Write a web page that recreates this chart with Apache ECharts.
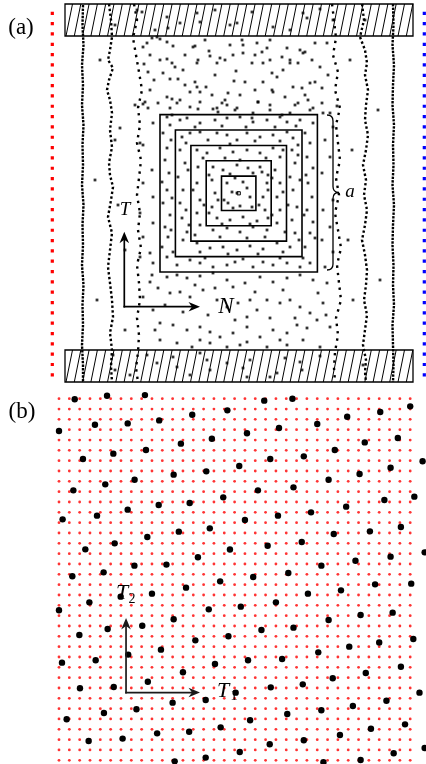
<!DOCTYPE html>
<html><head><meta charset="utf-8">
<script src="https://cdn.jsdelivr.net/npm/echarts@6/dist/echarts.min.js"></script>
<style>html,body{margin:0;padding:0;background:#fff;}#chart{width:426px;height:764px;}</style>
</head><body><div id="chart"></div>
<script>
// ===== Panel (a): values in panel-(a) units =====
const wallX = [65, 413];
const wallY = [[4, 36], [350, 382]];
const squareCenter = [238.7, 193.3];
const squareHalf = [17.2, 32.5, 47.8, 63.3, 78.7];
const centerMarkHalf = [1.6];
const braceA = [[327, 115, 270, 333, 339]];
const arrowsA = [[124.3, 306.7, 124.3, 231.7], [124.3, 306.7, 200, 306.7]];
const sideRed = [[52.3, 11.7], [52.3, 376.5]];
const sideBlue = [[424.3, 11.7], [424.3, 376.5]];

const col83 = [[83,5],[82.5,25],[83.5,45],[82,65],[83,85],[82,105],[83.5,125],[82.5,145],[83,165],[82,185],[83.5,205],[82.5,225],[83,245],[82,265],[83.5,285],[82.5,305],[83,325],[82,345],[83,365],[83,382]];
const col110 = [[109,4],[111,20],[112,37],[110,50],[108,60],[113,68],[109,80],[107,90],[110,100],[112,113],[110,130],[112,147],[109,163],[110,175],[113,187],[111,200],[108,217],[112,233],[110,250],[108,267],[110,283],[112,300],[113,317],[110,333],[112,350],[111,366],[112,382]];
const col138 = [[134,4],[137,20],[133,38],[136,55],[139,72],[142,90],[138,108],[140,125],[137,143],[141,160],[139,178],[137,195],[140,213],[138,230],[141,248],[137,265],[139,283],[140,300],[137,318],[139,335],[138,352],[136,368],[138,382]];
const col337 = [[332,4],[334,20],[336,38],[333,55],[338,72],[335,90],[340,108],[336,125],[338,143],[340,160],[336,178],[339,195],[335,213],[338,230],[341,248],[337,265],[339,283],[341,300],[336,318],[338,335],[335,352],[334,368],[335,382]];
const col365 = [[362,4],[364,20],[360,37],[365,50],[367,63],[365,75],[368,90],[366,105],[365,120],[368,135],[366,150],[363,165],[366,180],[364,195],[367,210],[365,225],[362,240],[365,255],[367,270],[366,285],[364,300],[367,315],[365,330],[363,345],[366,360],[365,372],[366,382]];
const col393 = [[393,4],[393.5,25],[392.5,45],[394,65],[393,85],[392.5,105],[394,125],[393,145],[393.5,165],[392.5,185],[394,205],[393,225],[392.5,245],[393.5,265],[393,285],[394,305],[392.5,325],[393,345],[393.5,365],[393,382]];

const dotsWalls = [[115,25],[137,10],[142,12],[167,17],[168,28],[180,23],[197,13],[200,22],[230,25],[237,23],[273,27],[303,13],[307,18],[333,20],[365,20],[252,12],[290,30],[320,9],[215,10],[155,30],
[113,355],[115,370],[147,355],[157,363],[173,357],[177,367],[200,353],[207,360],[210,370],[227,363],[243,368],[247,377],[250,360],[270,377],[277,373],[300,362],[302,370],[363,365],[190,375],[320,356],[285,358],[130,375]];
const dotsTop = [[147,43],[152,38],[160,39],[167,42],[173,46],[143,47],[195,46],[144,64],[167,59],[172,63],[175,67],[183,70],[198,60],[197,63],[209,51],[210,56],[217,63],[220,58],[225,60],[233,55],[236,71],[148,72],[163,73],[154,80],[170,79],[178,79],[195,82],[197,87],[200,92],[206,87],[215,75],[234,81],[228,93],[145,102],[167,97],[172,99],[190,92],[225,100],[222,103],[217,108],[148,108],[170,108],[198,109],[213,109],
[243,45],[257,43],[270,40],[255,55],[252,63],[243,53],[263,63],[270,60],[282,57],[290,60],[300,50],[303,53],[315,43],[327,43],[290,63],[298,63],[272,73],[277,77],[283,70],[320,67],[245,82],[255,90],[272,90],[273,92],[293,87],[302,88],[305,95],[310,83],[315,82],[322,88],[308,100],[258,102],[270,105],[322,103],[157,37],[193,47],[242,40],[267,48],[305,52],
[150,55],[185,55],[205,40],[230,45],[262,52],[287,48],[312,60],[328,75],[150,90],[185,85],[212,95],[240,95],[263,82],[285,97],[295,105],[160,60],[235,110],[310,110],[180,100]];
const dotsSquares = [[135,105],[143,104],[158,103],[177,103],[190,107],[200,102],[218,112],[227,105],[237,108],[253,113],[258,102],[270,110],[282,115],[290,113],[298,103],[313,108],[337,106],[330,113],
[167,117],[172,115],[180,120],[187,118],[200,123],[215,120],[227,118],[240,117],[252,118],[253,122],[267,120],[280,117],[287,122],[300,120],[313,123],[163,133],[167,148],[165,160],[169,173],[162,182],[167,190],[163,203],[170,215],[165,227],[168,237],[162,247],[167,257],[177,265],[190,260],[200,263],[213,267],[227,265],[243,259],[253,267],[263,262],[273,265],[287,263],[300,267],[310,263],[305,247],[310,233],[313,222],[307,210],[312,197],[308,183],[313,168],[307,157],[310,143],[305,133],
[170,125],[195,127],[222,126],[246,127],[275,127],[296,126],[171,140],[172,198],[171,230],[173,252],[205,258],[235,262],[280,258],[303,258],[306,175],[304,215],[315,238],
[182,137],[190,133],[200,132],[217,133],[227,135],[237,140],[247,133],[260,137],[273,135],[287,132],[293,138],[180,150],[185,163],[178,177],[183,190],[180,203],[182,218],[187,232],[183,240],[197,243],[210,248],[223,247],[237,250],[250,246],[263,249],[277,243],[290,247],[295,233],[292,220],[297,207],[293,190],[290,177],[295,163],[292,150],
[186,143],[208,140],[230,144],[255,141],[280,141],[298,145],[188,170],[186,210],[189,225],[200,252],[228,254],[258,254],[283,252],[299,240],[288,205],[300,180],[298,155],
[197,150],[207,153],[220,148],[233,152],[247,150],[260,153],[273,148],[198,167],[197,183],[200,200],[197,213],[200,225],[213,230],[227,228],[240,232],[253,227],[267,230],[277,223],[280,210],[277,197],[280,183],[275,170],[280,157],
[203,158],[225,158],[240,160],[266,158],[283,150],[193,190],[204,205],[195,235],[220,237],[247,238],[265,237],[285,232],[272,215],[283,192],[272,178],
[213,167],[223,170],[237,165],[248,168],[260,167],[212,180],[215,193],[212,207],[217,218],[230,220],[243,217],[257,221],[265,210],[263,197],[267,183],[262,172],
[209,175],[230,174],[253,173],[268,175],[218,200],[209,213],[222,224],[250,224],[268,218],[259,205],[268,190],
[227,183],[232,192],[243,182],[250,197],[228,203],[240,206],[252,207],[237,193],[224,200],[247,188],[235,178],[233,208],
[140,143],[143,145],[153,123],[152,170],[143,183],[153,197],[140,213],[153,223],[143,237],[150,253],[140,257],[153,263],
[323,113],[333,127],[325,140],[330,157],[322,173],[333,200],[323,210],[330,227],[322,240],[333,252],[325,267],
[120,128],[115,140],[118,205],[125,250],[97,300],[350,60],[352,150],[348,240],[353,300],[100,60],[378,110],[380,280],[95,180],[125,330]];
const dotsBottom = [[167,277],[177,275],[187,278],[200,276],[213,273],[227,280],[233,287],[245,283],[260,277],[273,282],[287,278],[300,275],[313,280],[327,283],[158,288],[170,293],[180,292],[190,297],[203,290],[217,300],[227,307],[238,303],[247,317],[257,310],[267,300],[280,303],[290,300],[300,307],[310,313],[323,303],[153,310],[160,323],[173,325],[187,330],[200,327],[210,332],[220,337],[233,333],[247,327],[260,337],[273,330],[287,333],[297,325],[307,328],[317,320],[330,327],[160,340],[177,343],[192,347],[210,343],[227,347],[247,342],[267,347],[287,345],[303,340],[320,347],[143,297],[150,282],
[152,275],[195,285],[215,288],[255,292],[283,290],[318,293],[165,305],[208,315],[235,320],[270,318],[295,318],[183,312],[155,330],[240,345],[280,340],[326,315],[200,340],[250,300]];

// ===== Panel (b): values in lattice units =====
const latticeCols = 35;
const latticeRows = 36;
const atomsB = [[1.52,0.06],[4.65,-0.29],[8.32,-0.35],[19.87,0.19],[22.6,0],[34.0,0.74],[16.3,1.13],[31.1,1.29],[12.9,1.55],[27.9,1.74],[3.48,2.52],[6.65,2.39],[9.7,2.1],[25.0,2.45],[0,3.13],[21.3,2.84],[18.2,3.35],[14.8,3.87],[32.8,3.8],[11.8,4.35],[29.6,4.23],[5.26,5.32],[8.42,4.97],[26.7,4.97],[2.32,5.84],[20.45,5.84],[23.7,5.58],[35.2,6.06],[17.45,6.52],[14.26,7.03],[32.1,6.68],[11.1,7.35],[29.1,7.29],[7.32,7.84],[4.48,8.29],[26.1,7.84],[1.39,8.87],[19.26,8.87],[22.7,8.58],[15.9,9.55],[31.5,9.81],[34.4,9.48],[9.65,10.29],[12.65,10.1],[6.65,10.74],[27.8,10.45],
[0.35,11.68],[3.68,11.32],[18.0,11.74],[21.2,11.32],[24.4,11.0],[33.1,12.42],[11.6,12.87],[14.6,12.55],[26.6,13.1],[30.1,12.84],[8.55,13.39],[5.39,14.0],[2.55,14.58],[20.2,14.23],[23.5,13.87],[16.55,14.6],[35.4,14.87],[13.45,15.35],[32.1,15.29],[7.3,16.16],[10.4,16.06],[28.7,15.68],[25.4,16.16],[1.29,17.19],[4.32,16.81],[22.2,16.87],[18.8,17.26],[15.6,17.68],[30.6,17.97],[34.1,17.9],[12.3,18.29],[9.0,18.87],[27.3,18.55],[24.1,18.87],[2.94,19.71],[5.97,19.16],[0,20.48],[14.5,20.39],[17.6,20.13],[21.0,19.71],[11.1,21.35],[26.1,21.42],[29.2,20.94],[32.3,20.71],[8.06,21.97],[4.71,22.29],[22.7,22.16],[19.6,22.39],
[1.97,22.87],[16.4,23.0],[13.2,23.39],[34.3,23.26],[28.1,24.0],[31.0,23.6],[9.87,24.29],[6.7,24.77],[25.1,24.55],[0.29,25.55],[3.55,25.32],[15.1,25.68],[18.3,25.32],[21.6,25.19],[33.1,25.94],[12.0,26.48],[29.7,26.55],[26.5,27.06],[8.6,27.39],[23.6,27.65],[2.03,28.03],[5.3,27.9],[20.5,27.94],[17.1,28.45],[14.2,29.16],[11.0,29.42],[31.7,29.23],[34.9,28.45],[7.5,30.06],[4.35,30.42],[25.4,30.16],[28.45,29.74],[22.1,30.52],[0.74,31.03],[18.5,31.13],[15.65,31.81],[33.5,31.52],[30.2,31.94],[12.6,32.23],[9.5,32.39],[27.2,32.55],[6.16,32.9],[2.87,33.13],[20.4,33.45],[23.7,33.06],[35.4,33.81],[17.5,34.19],[32.4,34.32],[14.2,34.74],[11.2,35.1],[25.6,35.19],[29.2,34.97]];
const arrowsB = [[6.49, 28.44, 6.49, 21.23], [6.49, 28.44, 13.65, 28.44]];

// ===== build =====
const lattice = [];
for (let i = 0; i < latticeCols; i++) for (let j = 0; j < latticeRows; j++) lattice.push([i, j]);

function wallItem(params, api) {
  const x0 = api.value(0), x1 = api.value(1), y0 = api.value(2), y1 = api.value(3);
  const p0 = api.coord([x0, y0]), p1 = api.coord([x1, y1]);
  const step = 8.3, lean = 6.5;
  const children = [{type:'rect', shape:{x:p0[0], y:p0[1], width:p1[0]-p0[0], height:p1[1]-p0[1]}, style:{fill:null, stroke:'#000', lineWidth:1.3}}];
  for (let x = x0 + 1; x < x1; x += step) {
    let xt = x + lean, yt = y0;
    if (xt > x1) { const f = (x1 - x) / lean; xt = x1; yt = y1 - (y1 - y0) * f; }
    const a = api.coord([x, y1]), b = api.coord([xt, yt]);
    children.push({type:'line', shape:{x1:a[0], y1:a[1], x2:b[0], y2:b[1]}, style:{stroke:'#000', lineWidth:1}});
  }
  return {type:'group', children};
}
function squareItem(params, api) {
  const h = api.value(0);
  const a = api.coord([squareCenter[0]-h, squareCenter[1]-h]), b = api.coord([squareCenter[0]+h, squareCenter[1]+h]);
  return {type:'rect', shape:{x:a[0], y:a[1], width:b[0]-a[0], height:b[1]-a[1]}, style:{fill:null, stroke:'#000', lineWidth: h < 5 ? 1 : 1.6}};
}
function arrowItemFactory(color) {
  return function (params, api) {
    const s = api.coord([api.value(0), api.value(1)]), t = api.coord([api.value(2), api.value(3)]);
    const dx = t[0]-s[0], dy = t[1]-s[1], len = Math.hypot(dx, dy), ux = dx/len, uy = dy/len, nx = -uy, ny = ux;
    const L = 11.5, W = 4.8, N = 3.5;
    const back = [t[0]-L*ux, t[1]-L*uy], notch = [t[0]-(L-N)*ux, t[1]-(L-N)*uy];
    return {type:'group', children:[
      {type:'line', shape:{x1:s[0], y1:s[1], x2:notch[0], y2:notch[1]}, style:{stroke:color, lineWidth:1.7, lineCap:'square'}},
      {type:'polygon', shape:{points:[t, [back[0]+W*nx, back[1]+W*ny], notch, [back[0]-W*nx, back[1]-W*ny]]}, style:{fill:color}}
    ]};
  };
}
function braceItem(params, api) {
  const xe = api.value(0), yt = api.value(1), yb = api.value(2), xs = api.value(3), xt = api.value(4);
  const ym = (yt + yb) / 2, r = 6;
  const P = (x, y) => api.coord([x, y]).map(v => v.toFixed(2)).join(' ');
  const d = 'M' + P(xe, yt) + ' Q' + P(xs, yt) + ' ' + P(xs, yt + r) + ' L' + P(xs, ym - r) +
            ' Q' + P(xs, ym) + ' ' + P(xt, ym) + ' Q' + P(xs, ym) + ' ' + P(xs, ym + r) +
            ' L' + P(xs, yb - r) + ' Q' + P(xs, yb) + ' ' + P(xe, yb);
  return {type:'path', shape:{pathData:d}, style:{fill:null, stroke:'#000', lineWidth:1.3}};
}
function colLine(data, dash, width) {
  return {type:'line', xAxisIndex:0, yAxisIndex:0, data, showSymbol:false, silent:true, z:3,
    lineStyle:{color:'#000', width, type:dash}};
}
const dotStyleA = {type:'scatter', xAxisIndex:0, yAxisIndex:0, symbol:'rect', symbolSize:2.8, itemStyle:{color:'#000'}, silent:true, z:4, clip:false};

const chart = echarts.init(document.getElementById('chart'), null, {renderer:'canvas'});
chart.setOption({
  animation:false,
  backgroundColor:'#fff',
  grid:[{left:0, top:0, width:426, height:390}, {left:59, top:398.7, width:351.2, height:361.6}],
  xAxis:[{type:'value', gridIndex:0, min:0, max:426, show:false}, {type:'value', gridIndex:1, min:0, max:34, show:false}],
  yAxis:[{type:'value', gridIndex:0, min:0, max:390, inverse:true, show:false}, {type:'value', gridIndex:1, min:0, max:35, inverse:true, show:false}],
  series:[
    {type:'custom', xAxisIndex:0, yAxisIndex:0, renderItem:wallItem, data:wallY.map(w => [wallX[0], wallX[1], w[0], w[1]]), z:2, silent:true},
    {type:'custom', xAxisIndex:0, yAxisIndex:0, renderItem:squareItem, data:squareHalf.concat(centerMarkHalf).map(h => [h]), z:2, silent:true},
    {type:'custom', xAxisIndex:0, yAxisIndex:0, renderItem:braceItem, data:braceA, z:2, silent:true},
    {type:'line', xAxisIndex:0, yAxisIndex:0, data:sideRed, showSymbol:false, silent:true, lineStyle:{color:'#ff0000', width:3.2, type:[3.2, 7.13]}},
    {type:'line', xAxisIndex:0, yAxisIndex:0, data:sideBlue, showSymbol:false, silent:true, lineStyle:{color:'#0000ff', width:3.2, type:[3.2, 7.13]}},
    colLine(col83, [2.4, 1.2], 2.4), colLine(col393, [2.4, 1.2], 2.4),
    colLine(col110, [2.4, 2.4], 2.4), colLine(col365, [2.4, 2.4], 2.4),
    colLine(col138, [2.4, 5], 2.4), colLine(col337, [2.4, 5], 2.4),
    Object.assign({data:dotsWalls.concat(dotsTop, dotsSquares, dotsBottom)}, dotStyleA),
    {type:'custom', xAxisIndex:0, yAxisIndex:0, renderItem:arrowItemFactory('#000'), data:arrowsA, z:5, silent:true},
    {type:'scatter', xAxisIndex:1, yAxisIndex:1, data:lattice, symbol:'circle', symbolSize:2.8, itemStyle:{color:'#ff0000'}, silent:true, z:2, clip:false},
    {type:'scatter', xAxisIndex:1, yAxisIndex:1, data:atomsB, symbol:'circle', symbolSize:6.4, itemStyle:{color:'#000', opacity:1}, silent:true, z:3, clip:false},
    {type:'custom', xAxisIndex:1, yAxisIndex:1, renderItem:arrowItemFactory('#1a1a1a'), data:arrowsB, z:5, silent:true}
  ],
  graphic:[
    {type:'text', x:21, y:28, z:10, style:{text:'(a)', fontFamily:'Liberation Serif', fontSize:23, fill:'#000', textAlign:'center', textVerticalAlign:'middle'}},
    {type:'text', x:22, y:412, z:10, style:{text:'(b)', fontFamily:'Liberation Serif', fontSize:23, fill:'#000', textAlign:'center', textVerticalAlign:'middle'}},
    {type:'text', x:125, y:210, z:10, style:{text:'T', fontFamily:'Liberation Serif', fontStyle:'italic', fontSize:19, fill:'#000', textAlign:'center', textVerticalAlign:'middle'}},
    {type:'text', x:226, y:307, z:10, style:{text:'N', fontFamily:'Liberation Serif', fontStyle:'italic', fontSize:23, fill:'#000', textAlign:'center', textVerticalAlign:'middle'}},
    {type:'text', x:350, y:192, z:10, style:{text:'a', fontFamily:'Liberation Serif', fontStyle:'italic', fontSize:19, fill:'#000', textAlign:'center', textVerticalAlign:'middle'}},
    {type:'text', x:122, y:593, z:10, style:{text:'T', fontFamily:'Liberation Serif', fontStyle:'italic', fontSize:22, fill:'#000', textAlign:'center', textVerticalAlign:'middle'}},
    {type:'text', x:132, y:599, z:10, style:{text:'2', fontFamily:'Liberation Serif', fontSize:14, fill:'#000', textAlign:'center', textVerticalAlign:'middle'}},
    {type:'text', x:223, y:691, z:10, style:{text:'T', fontFamily:'Liberation Serif', fontStyle:'italic', fontSize:22, fill:'#000', textAlign:'center', textVerticalAlign:'middle'}},
    {type:'text', x:234, y:696, z:10, style:{text:'1', fontFamily:'Liberation Serif', fontSize:14, fill:'#000', textAlign:'center', textVerticalAlign:'middle'}}
  ]
});
</script></body></html>
